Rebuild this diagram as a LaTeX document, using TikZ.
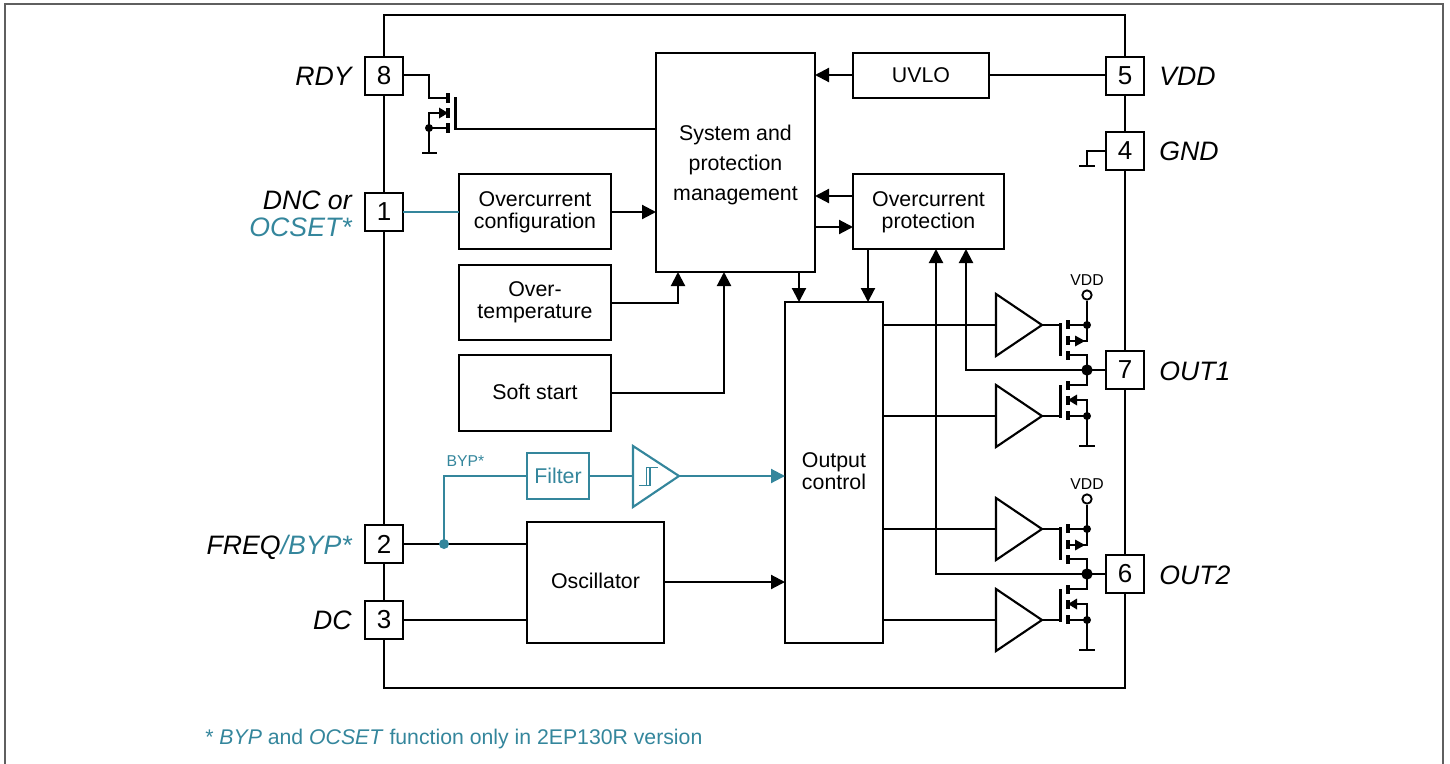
\documentclass[tikz,border=0pt]{standalone}
\usepackage{fontspec}
\setmainfont{Liberation Sans}
\usetikzlibrary{arrows.meta}
\definecolor{teal1}{HTML}{34869C}
\definecolor{frame1}{HTML}{5F5F5F}
\newcommand{\pxfont}[1]{\fontsize{#1}{#1}\selectfont}
\tikzset{
  wire/.style={line width=1.6pt,black,line cap=butt,line join=miter},
  twire/.style={wire,draw=teal1},
  arr/.style={-{Triangle[length=10.5pt,width=10.5pt]}},
  box/.style={draw,line width=1.6pt,fill=white,inner sep=0pt,outer sep=0pt,align=center,font=\pxfont{16}},
  pinbox/.style={box,minimum width=28.5pt,minimum height=28.5pt,font=\pxfont{19.5}},
  pinlabel/.style={inner sep=0pt,font=\pxfont{20}\itshape},
  small/.style={inner sep=0pt,font=\pxfont{11.8}},
  dot/.style={circle,fill=black,inner sep=0pt,minimum size=6pt},
  bigdot/.style={circle,fill=black,inner sep=0pt,minimum size=8.5pt},
  hollow/.style={circle,draw,fill=white,line width=1.4pt,inner sep=0pt,minimum size=7pt},
  fet/.style={line width=2.4pt},
}
% \bx{name}{x1}{y1}{x2}{y2}{text}
\newcommand{\bx}[7][]{%
  \pgfmathsetmacro{\bw}{(#5-#3)*0.75}\pgfmathsetmacro{\bh}{(#6-#4)*0.75}%
  \node[box,minimum width=\bw pt,minimum height=\bh pt] (#2) at ({(#3+#5)/2},{(#4+#6)/2}) {};%
  \node[inner sep=0pt,align=center,font=\pxfont{16},#1] (#2t) at ({(#3+#5)/2},{(#4+#6)/2}) {#7};}
% half-bridge driver stage: prefix, vertical offset
\newcommand{\stage}[2]{%
\begin{scope}[shift={(0,#2)}]
  % high side
  \coordinate (#1hi) at (996,325); \coordinate (#1htip) at (1042,325);
  \draw[wire,fill=white] (996,294) -- (#1htip) -- (996,356) -- cycle;
  \draw[wire] (#1htip) -- (1060.5,325);
  \draw[fet] (1060.5,323) -- (1060.5,356);
  \draw[fet] (1068,320) -- (1068,329) (1068,336) -- (1068,345) (1068,351) -- (1068,360);
  \node[hollow] (#1vdd) at (1087,295) {};
  \node[small] (#1vl) at (1087,280) {VDD};
  \node[dot] (#1hd) at (1087,325) {};
  \coordinate (#1hs) at (1087,341);
  \draw[wire] (#1vdd) -- (#1hd.center) -- (#1hs) -- (1068,341);
  \draw[wire] (#1hd.center) -- (1068,325);
  \fill (1085,341) -- (1075,335.5) -- (1075,346.5) -- cycle;
  \node[bigdot] (#1sw) at (1087,370) {};
  \draw[wire] (1068,355) -- (1087,355) -- (#1sw.center);
  % low side
  \coordinate (#1li) at (996,416); \coordinate (#1ltip) at (1042,416);
  \draw[wire,fill=white] (996,385) -- (#1ltip) -- (996,447) -- cycle;
  \draw[wire] (#1ltip) -- (1060.5,416);
  \draw[fet] (1060.5,385) -- (1060.5,418);
  \draw[fet] (1068,381) -- (1068,390) (1068,396) -- (1068,405) (1068,411) -- (1068,420);
  \draw[wire] (#1sw.center) -- (1087,385) -- (1068,385);
  \node[dot] (#1ld) at (1087,416) {};
  \coordinate (#1gnd) at (1087,446);
  \draw[wire] (1068,400) -- (1087,400) -- (#1ld.center) -- (#1gnd);
  \draw[wire] (#1ld.center) -- (1068,416);
  \draw[wire] (1079,446) -- (1095,446);
  \fill (1068,400) -- (1077,394.5) -- (1077,405.5) -- cycle;
\end{scope}}
\begin{document}
\begin{tikzpicture}[x=0.75pt,y=-0.75pt]
\useasboundingbox (0,0) rectangle (1450,764);
% outer frame (open at bottom)
\draw[frame1,line width=1.5pt] (5,764) -- (5,4) -- (1442.5,4) -- (1442.5,764);
% IC outline
\node[draw,line width=1.6pt,inner sep=0pt,outer sep=0pt,minimum width=555.75pt,minimum height=504.75pt] (ic) at (754.5,351.5) {};
% pins
\node[pinbox] (p8) at (384,76) {8};
\node[pinbox] (p1) at (384,212) {1};
\node[pinbox] (p2) at (384,544) {2};
\node[pinbox] (p3) at (384,620) {3};
\node[pinbox] (p5) at (1125,76) {5};
\node[pinbox] (p4) at (1125,151) {4};
\node[pinbox] (p7) at (1125,370) {7};
\node[pinbox] (p6) at (1125,574) {6};
% pin labels
\node[pinlabel,anchor=base east] (l8) at (352,85) {RDY};
\node[pinlabel,anchor=base east] (l1a) at (352,209) {DNC or};
\node[pinlabel,anchor=base east,teal1] (l1b) at (352,236) {OCSET*};
\node[pinlabel,anchor=base east] (l2) at (352,554) {FREQ\textcolor{teal1}{/BYP*}};
\node[pinlabel,anchor=base east] (l3) at (352,629) {DC};
\node[pinlabel,anchor=base west] (l5) at (1159,85) {VDD};
\node[pinlabel,anchor=base west] (l4) at (1159,160) {GND};
\node[pinlabel,anchor=base west] (l7) at (1159,380) {OUT1};
\node[pinlabel,anchor=base west] (l6) at (1159,584) {OUT2};
% boxes
\bx[yshift=-1.5pt,execute at begin node={\baselineskip=22.5pt}]{sys}{656}{53}{815}{272}{System and\\protection\\management}
\bx{uvlo}{853}{53}{989}{98}{UVLO}
\bx[yshift=-0.75pt,execute at begin node={\baselineskip=16.5pt}]{ocfg}{459}{174}{611}{249}{Overcurrent\\configuration}
\bx[execute at begin node={\baselineskip=16.5pt}]{otmp}{459}{265}{611}{340}{Over-\\temperature}
\bx[yshift=0.75pt]{soft}{459}{355}{611}{431}{Soft start}
\bx[yshift=-0.75pt,execute at begin node={\baselineskip=16.5pt}]{ocp}{853}{174}{1004}{249}{Overcurrent\\protection}
\bx[yshift=0.75pt,execute at begin node={\baselineskip=16.5pt}]{outc}{785}{302}{883}{643}{Output\\control}
\bx[yshift=1.5pt]{osc}{527}{522}{664}{643}{Oscillator}
\bx[text=teal1]{filt}{527}{453}{589}{499}{Filter}
\draw[draw=teal1,line width=1.6pt] (filt.south west) rectangle (filt.north east);
% GND pin
\coordinate (g4a) at (1087,151); \coordinate (g4b) at (1087,166);
\draw[wire] (p4.west) -- (g4a) -- (g4b);
\draw[wire] (1079,166) -- (1095,166);
% RDY transistor
\coordinate (r0) at (403,75); \coordinate (r1) at (429,75); \coordinate (r2) at (429,98); \coordinate (r3) at (448,98);
\draw[wire] (r0) -- (r1) -- (r2) -- (r3);
\draw[fet] (448,93) -- (448,103) (448,108) -- (448,118) (448,123) -- (448,133);
\draw[fet] (455.5,97) -- (455.5,130);
\node[dot] (rd) at (429,128) {};
\coordinate (rgnd) at (429,153);
\coordinate (rm) at (429,113);
\draw[wire] (448,113) -- (rm) -- (rd.center) -- (rgnd);
\draw[wire] (rd.center) -- (448,128);
\draw[wire] (422,153) -- (437,153);
\fill (448,113) -- (439,107.5) -- (439,118.5) -- cycle;
\draw[wire] (455.5,129) -- (sys.west |- 0,129);
% system connections
\coordinate (u) at (0,75);
\draw[wire] (p5.west |- u) -- (uvlo.east |- u);
\draw[wire,arr] (uvlo.west |- u) -- (sys.east |- u);
\draw[twire] (p1.east) -- (ocfg.west |- p1.east);
\draw[wire,arr] (ocfg.east |- p1.east) -- (sys.west |- p1.east);
\coordinate (j1) at (678,303);
\draw[wire,arr] (otmp.east |- j1) -- (j1) -- (sys.south -| j1);
\coordinate (j2) at (724,393);
\draw[wire,arr] (soft.east) -- (j2) -- (sys.south -| j2);
\draw[wire,arr] (ocp.west |- 0,196) -- (sys.east |- 0,196);
\draw[wire,arr] (sys.east |- 0,227) -- (ocp.west |- 0,227);
\draw[wire,arr] (799,272) -- (799,302);
\draw[wire,arr] (868,249) -- (868,302);
% stages
\stage{a}{0}
\stage{b}{204}
\foreach \s in {a,b}{
  \draw[wire] (outc.east |- \s hi) -- (\s hi);
  \draw[wire] (outc.east |- \s li) -- (\s li);
}
\coordinate (f1) at (966,370);
\coordinate (f2) at (936,574);
\draw[wire] (p7.west) -- (asw.center);
\draw[wire] (p6.west) -- (bsw.center);
\draw[wire,arr] (asw.center) -- (f1) -- (ocp.south -| f1);
\draw[wire,arr] (bsw.center) -- (f2) -- (ocp.south -| f2);
% clock and bypass
\draw[wire] (p2.east) -- (osc.west |- p2.east);
\draw[wire] (p3.east) -- (osc.west |- p3.east);
\draw[wire,arr] (osc.east |- 0,582) -- (outc.west |- 0,582);
\node[circle,fill=teal1,inner sep=0pt,minimum size=7.5pt] (jb) at (444,544) {};
\coordinate (jc) at (444,476);
\draw[twire] (jb.center) -- (jc) -- (filt.west |- jc);
\node[small,teal1] (bl) at (465.5,461.5) {BYP*};
\coordinate (s1) at (633,476); \coordinate (s2) at (679,476);
\draw[twire] (filt.east |- s1) -- (s1);
\draw[twire] (633,446) -- (s2) -- (633,507) -- cycle;
\draw[teal1,line width=1.3pt] (638.5,485.5) -- (650,485.5) -- (650,467.5) -- (658,467.5);
\draw[teal1,line width=1.3pt] (646.5,485.5) -- (646.5,467.5) -- (650,467.5);
\draw[twire,-{Triangle[length=10.5pt,width=10.5pt,fill=teal1]}] (s2) -- (outc.west |- s2);
% footnote
\node[anchor=base west,inner sep=0pt,text=teal1,font=\pxfont{15.93}] (fn) at (205,744) {* \textit{BYP} and \textit{OCSET} function only in 2EP130R version};
\end{tikzpicture}
\end{document}
